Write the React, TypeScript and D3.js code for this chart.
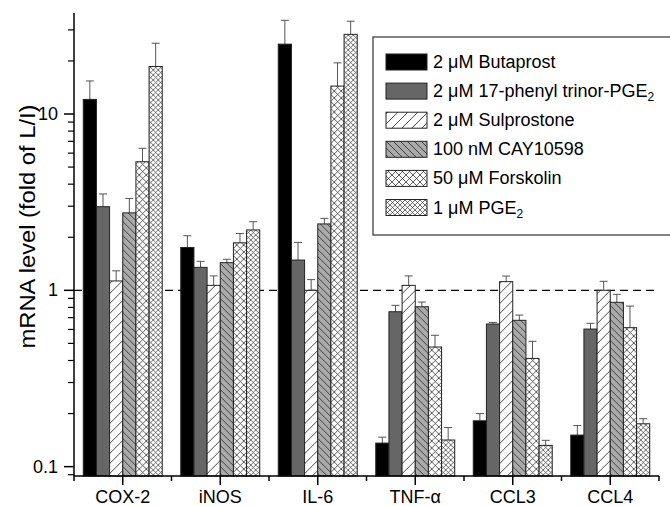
import React from "react";
import * as d3 from "d3";

const categories = ["COX-2", "iNOS", "IL-6", "TNF-\u03b1", "CCL3", "CCL4"];
const seriesKeys = ["butaprost", "phenyl", "sulprostone", "cay", "forskolin", "pge2"];
const legendLabels = [
  "2 \u03bcM Butaprost",
  "2 \u03bcM 17-phenyl trinor-PGE",
  "2 \u03bcM Sulprostone",
  "100 nM CAY10598",
  "50 \u03bcM Forskolin",
  "1 \u03bcM PGE",
];
const legendSubs = ["", "2", "", "", "", "2"];

const butaprost = [12.1, 1.75, 24.9, 0.136, 0.182, 0.151];
const butaprostErr = [3.3, 0.29, 9.1, 0.011, 0.018, 0.02];
const phenyl = [2.98, 1.35, 1.485, 0.756, 0.644, 0.603];
const phenylErr = [0.54, 0.11, 0.385, 0.066, 0.014, 0.047];
const sulprostone = [1.13, 1.067, 1.0, 1.067, 1.12, 1.0];
const sulprostoneErr = [0.16, 0.14, 0.15, 0.14, 0.085, 0.125];
const cay = [2.75, 1.435, 2.38, 0.807, 0.676, 0.855];
const cayErr = [0.57, 0.065, 0.18, 0.051, 0.048, 0.094];
const forskolin = [5.36, 1.86, 14.4, 0.477, 0.411, 0.614];
const forskolinErr = [1.03, 0.24, 5.1, 0.079, 0.103, 0.2];
const pge2 = [18.6, 2.2, 28.3, 0.1416, 0.132, 0.175];
const pge2Err = [6.6, 0.25, 5.3, 0.025, 0.009, 0.012];

const seriesValues = [butaprost, phenyl, sulprostone, cay, forskolin, pge2];
const seriesErrors = [butaprostErr, phenylErr, sulprostoneErr, cayErr, forskolinErr, pge2Err];

const majorTicks = [0.1, 1, 10];
const majorTickLabels = ["0.1", "1", "10"];
const referenceLevel = 1;

const W = 670;
const H = 506;
const M = { left: 74, right: 659, top: 13, bottom: 476 };
const FONT = "'Liberation Sans', Arial, Helvetica, sans-serif";

const fills = ["#000000", "#666666", "url(#pSulp)", "url(#pCay)", "url(#pFors)", "url(#pPge)"];

export default function App() {
  const y = d3.scaleLog().domain([0.0885, 37.4]).range([M.bottom, M.top]);
  const x = d3
    .scaleBand<string>()
    .domain(categories)
    .range([M.left, M.right])
    .paddingInner(0.19)
    .paddingOuter(0.095);
  const xs = d3.scaleBand<string>().domain(seriesKeys).range([0, x.bandwidth()]).padding(0);
  const step = x.step();
  const allTicks = y.ticks(20).filter((t) => t >= y.domain()[0] && t <= y.domain()[1]);
  const minorTicks = allTicks.filter((t) => !majorTicks.some((m) => Math.abs(m - t) / m < 1e-6));

  return (
    <svg
      width={W}
      height={H}
      style={{ position: "absolute", left: 0, top: 0, background: "#fff" }}
      fontFamily={FONT}
    >
      <defs>
        <pattern id="pSulp" patternUnits="userSpaceOnUse" width={10} height={10}>
          <rect width={10} height={10} fill="#fff" />
          <path d="M0,10 L10,0 M-3,3 L3,-3 M7,13 L13,7" stroke="#333" strokeWidth={0.9} />
        </pattern>
        <pattern id="pCay" patternUnits="userSpaceOnUse" width={7} height={7}>
          <rect width={7} height={7} fill="#aaaaaa" />
          <path d="M0,0 L7,7 M-3,4 L3,10 M4,-3 L10,3" stroke="#333" strokeWidth={0.9} />
        </pattern>
        <pattern id="pFors" patternUnits="userSpaceOnUse" width={7} height={7}>
          <rect width={7} height={7} fill="#fff" />
          <path d="M0,0 L7,7 M7,0 L0,7" stroke="#333" strokeWidth={0.8} />
        </pattern>
        <pattern id="pPge" patternUnits="userSpaceOnUse" width={5} height={5}>
          <rect width={5} height={5} fill="#fff" />
          <path d="M0,0 L5,5 M5,0 L0,5" stroke="#333" strokeWidth={0.7} />
        </pattern>
      </defs>

      {/* reference dashed line */}
      <line
        x1={M.left}
        x2={M.right}
        y1={y(referenceLevel)}
        y2={y(referenceLevel)}
        stroke="#000"
        strokeWidth={1.2}
        strokeDasharray="8,5"
      />

      {/* bars */}
      {categories.map((c, ci) => (
        <g key={c} transform={`translate(${x(c)},0)`}>
          {seriesKeys.map((k, si) => {
            const v = seriesValues[si][ci];
            const e = seriesErrors[si][ci];
            const bx = xs(k) as number;
            const bw = xs.bandwidth();
            const cx = bx + bw / 2;
            return (
              <g key={k}>
                <line x1={cx} x2={cx} y1={y(v)} y2={y(v + e)} stroke="#555" strokeWidth={1} />
                <line x1={cx - 4} x2={cx + 4} y1={y(v + e)} y2={y(v + e)} stroke="#555" strokeWidth={1} />
                <rect
                  x={bx}
                  y={y(v)}
                  width={bw}
                  height={M.bottom - y(v)}
                  fill={fills[si]}
                  stroke="#222"
                  strokeWidth={1}
                />
              </g>
            );
          })}
        </g>
      ))}

      {/* y axis */}
      <line x1={M.left} x2={M.left} y1={M.top} y2={M.bottom} stroke="#000" strokeWidth={1.5} />
      {majorTicks.map((t, i) => (
        <g key={t}>
          <line x1={M.left - 10} x2={M.left} y1={y(t)} y2={y(t)} stroke="#000" strokeWidth={1.5} />
          <text
            x={M.left - 16}
            y={y(t)}
            textAnchor="end"
            dominantBaseline="central"
            fontSize={18}
          >
            {majorTickLabels[i]}
          </text>
        </g>
      ))}
      {minorTicks.map((t) => (
        <line key={t} x1={M.left - 6} x2={M.left} y1={y(t)} y2={y(t)} stroke="#000" strokeWidth={1.2} />
      ))}
      <text
        transform={`translate(28,${(M.top + M.bottom) / 2 - 18}) rotate(-90)`}
        textAnchor="middle"
        dominantBaseline="central"
        fontSize={21.5}
        textLength={244}
        lengthAdjust="spacingAndGlyphs"
      >
        mRNA level (fold of L/I)
      </text>

      {/* x axis */}
      <line x1={M.left} x2={M.right} y1={M.bottom} y2={M.bottom} stroke="#000" strokeWidth={1.5} />
      {d3.range(categories.length + 1).map((i) => (
        <line
          key={"b" + i}
          x1={M.left + i * step}
          x2={M.left + i * step}
          y1={M.bottom}
          y2={M.bottom + 5}
          stroke="#000"
          strokeWidth={1.5}
        />
      ))}
      {categories.map((c) => {
        const cx = (x(c) as number) + x.bandwidth() / 2;
        return (
          <g key={c}>
            <line x1={cx} x2={cx} y1={M.bottom} y2={M.bottom + 9} stroke="#000" strokeWidth={1.5} />
            <text x={cx} y={503} textAnchor="middle" fontSize={18}>
              {c}
            </text>
          </g>
        );
      })}

      {/* legend */}
      <rect x={373} y={37} width={320} height={198} fill="#fff" stroke="#333" strokeWidth={1.2} />
      {legendLabels.map((lab, i) => {
        const cy = 62 + i * 29.1;
        return (
          <g key={lab}>
            <rect x={386} y={cy - 8} width={41} height={16} fill={fills[i]} stroke="#222" strokeWidth={1} />
            <text x={433} y={cy} dominantBaseline="central" fontSize={18}>
              {lab}
              {legendSubs[i] ? (
                <tspan fontSize={12} dy={6}>
                  {legendSubs[i]}
                </tspan>
              ) : null}
            </text>
          </g>
        );
      })}
    </svg>
  );
}
